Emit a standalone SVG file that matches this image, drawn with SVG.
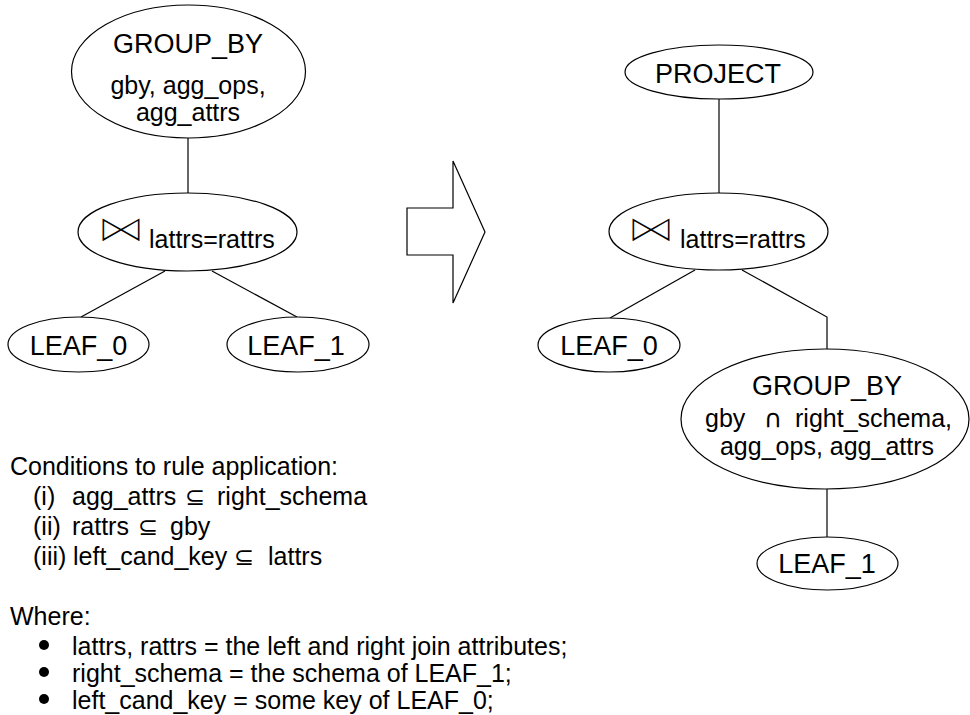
<svg xmlns="http://www.w3.org/2000/svg" width="970" height="715" viewBox="0 0 970 715">
  <style>
    .node ellipse { fill: #ffffff; stroke: #000000; stroke-width: 1.2; }
    .edge { fill: none; stroke: #000000; stroke-width: 1.2; }
    text { font-family: "Liberation Sans", Arial, sans-serif; fill: #000000; }
    .name { font-size: 27px; text-anchor: middle; }
    .arg { font-size: 25px; text-anchor: middle; }
    .join { font-size: 25px; }
    .sym { font-family: "DejaVu Sans", sans-serif; }
    /* join operator: wide, flattened, thinned with a white halo */
    .bowtie { font-family: "DejaVu Sans", sans-serif; font-size: 50px; stroke: #ffffff; stroke-width: 2.4px; }
    .note { font-size: 25px; }
  </style>

  <!-- connectors -->
  <g id="connectors">
    <!-- left tree -->
    <line class="edge" x1="188" y1="138" x2="188" y2="193"/>
    <line class="edge" x1="165" y1="271" x2="81" y2="317"/>
    <line class="edge" x1="212" y1="271" x2="297" y2="317"/>
    <!-- right tree -->
    <line class="edge" x1="719" y1="99" x2="719" y2="193"/>
    <line class="edge" x1="695" y1="270" x2="610" y2="318"/>
    <polyline class="edge" points="742,270 827,317 827,349"/>
    <line class="edge" x1="827" y1="489" x2="827" y2="537"/>
  </g>

  <!-- transformation arrow -->
  <polygon id="rewrite-arrow" class="edge" points="453,161 485,232 453,303 453,255 407,255 407,208 453,208"/>

  <!-- left tree nodes -->
  <g id="l-groupby" class="node">
    <ellipse cx="188.5" cy="71.5" rx="117" ry="66.5"/>
    <text class="name" x="188" y="53">GROUP_BY</text>
    <text class="arg" x="188" y="94">gby, agg_ops,</text>
    <text class="arg" x="188" y="121">agg_attrs</text>
  </g>
  <g id="l-join" class="node">
    <ellipse cx="187.5" cy="232" rx="109.5" ry="39"/>
    <text class="bowtie" transform="translate(96,241.5) scale(1,0.78)">⋈</text>
    <text class="join" x="149" y="248">lattrs=rattrs</text>
  </g>
  <g id="l-leaf0" class="node">
    <ellipse cx="78.5" cy="344.5" rx="70.5" ry="27.5"/>
    <text class="name" x="78.5" y="355">LEAF_0</text>
  </g>
  <g id="l-leaf1" class="node">
    <ellipse cx="298" cy="344.5" rx="71" ry="27.5"/>
    <text class="name" x="296" y="355">LEAF_1</text>
  </g>

  <!-- right tree nodes -->
  <g id="r-project" class="node">
    <ellipse cx="719" cy="72" rx="94" ry="27"/>
    <text class="name" x="718" y="83">PROJECT</text>
  </g>
  <g id="r-join" class="node">
    <ellipse cx="718.5" cy="231.5" rx="109.5" ry="38.5"/>
    <text class="bowtie" transform="translate(626,241.5) scale(1,0.78)">⋈</text>
    <text class="join" x="680" y="248">lattrs=rattrs</text>
  </g>
  <g id="r-leaf0" class="node">
    <ellipse cx="609" cy="345" rx="71" ry="27"/>
    <text class="name" x="609" y="355">LEAF_0</text>
  </g>
  <g id="r-groupby" class="node">
    <ellipse cx="825" cy="419" rx="144" ry="70"/>
    <text class="name" x="827" y="395">GROUP_BY</text>
    <text class="note" x="705" y="427">gby</text>
    <text class="note sym" x="764" y="427" font-size="20">∩</text>
    <text class="note" x="795" y="427">right_schema,</text>
    <text class="arg" x="827" y="455">agg_ops, agg_attrs</text>
  </g>
  <g id="r-leaf1" class="node">
    <ellipse cx="827.5" cy="563.5" rx="70.5" ry="26.5"/>
    <text class="name" x="827" y="573">LEAF_1</text>
  </g>

  <!-- applicability conditions -->
  <g id="conditions" class="note">
    <text x="10" y="475">Conditions to rule application:</text>
    <text x="33" y="505">(i)</text>
    <text x="72" y="505">agg_attrs</text>
    <text class="sym" x="185" y="505" font-size="24">⊆</text>
    <text x="217" y="505">right_schema</text>
    <text x="33" y="535">(ii)</text>
    <text x="72" y="535">rattrs</text>
    <text class="sym" x="138" y="535" font-size="24">⊆</text>
    <text x="170" y="535">gby</text>
    <text x="33" y="565">(iii)</text>
    <text x="73" y="565">left_cand_key</text>
    <text class="sym" x="234" y="565" font-size="24">⊆</text>
    <text x="268" y="565">lattrs</text>
  </g>

  <!-- definitions -->
  <g id="definitions" class="note">
    <text x="10" y="625">Where:</text>
    <circle cx="44" cy="645" r="5"/>
    <text x="72" y="655">lattrs, rattrs = the left and right join attributes;</text>
    <circle cx="44" cy="672" r="5"/>
    <text x="72" y="682">right_schema = the schema of LEAF_1;</text>
    <circle cx="44" cy="699" r="5"/>
    <text x="72" y="709">left_cand_key = some key of LEAF_0;</text>
  </g>
</svg>
